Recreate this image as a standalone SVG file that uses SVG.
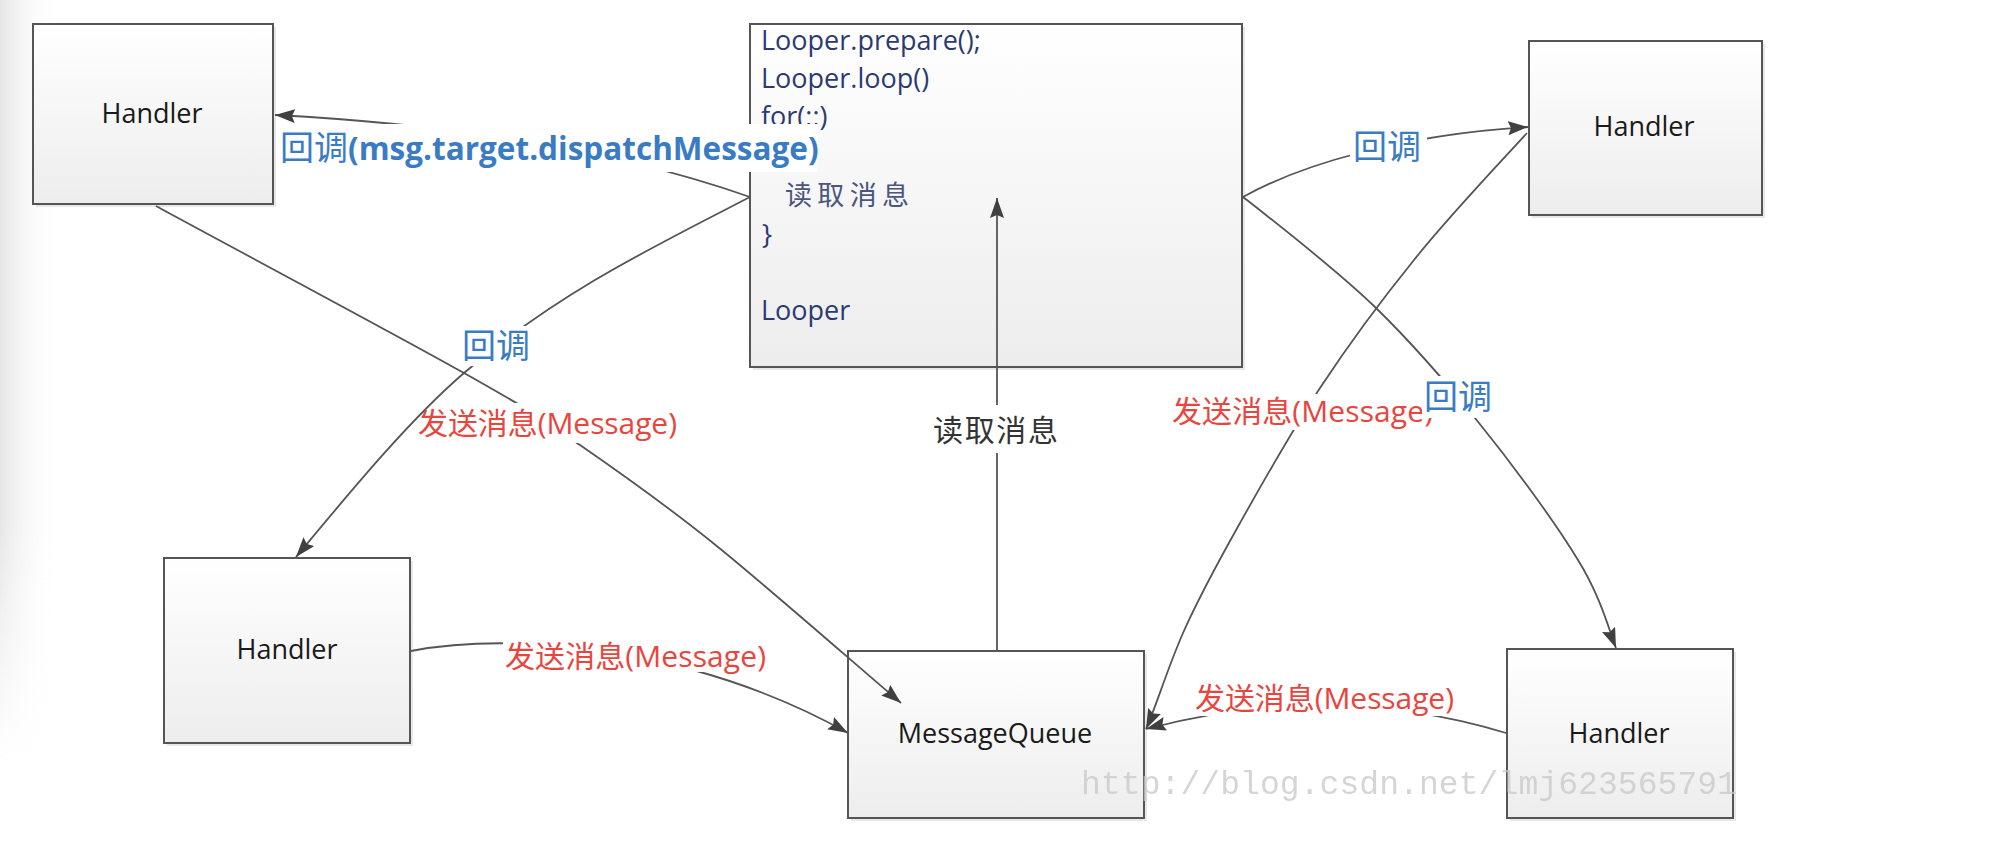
<svg xmlns="http://www.w3.org/2000/svg" width="1998" height="866" viewBox="0 0 1998 866">
<defs>
<style>
.box{fill:url(#boxgrad);stroke:#555;stroke-width:2}
.shadow{fill:#d8d8d8;opacity:0.6}
.node{font-family:"Open Sans","Noto Sans CJK SC",sans-serif;font-size:27px;fill:#1a1a1a;text-anchor:middle}
.code{font-family:"Open Sans","Noto Sans CJK SC",sans-serif;font-size:27px;fill:#2c3a70}
.conn{fill:none;stroke:#555;stroke-width:1.8}
.bg{fill:#fff}
.blue{font-family:"Open Sans","Noto Sans CJK SC",sans-serif;font-size:34px;fill:#3a7cc4}
.red{font-family:"Open Sans","Noto Sans CJK SC",sans-serif;font-size:30px;fill:#e8453e}
.grey{font-family:"Open Sans","Noto Sans CJK SC",sans-serif;font-size:30px;fill:#333}
.wm{font-family:"Liberation Mono",monospace;font-size:33px;fill:#c8c8c8;opacity:0.75}
</style>
<linearGradient id="boxgrad" x1="0" y1="0" x2="0" y2="1">
<stop offset="0" stop-color="#ffffff"/>
<stop offset="1" stop-color="#ededed"/>
</linearGradient>
<linearGradient id="leftgrad" x1="0" y1="0" x2="1" y2="0">
<stop offset="0" stop-color="#e6e6e6"/>
<stop offset="1" stop-color="#ffffff" stop-opacity="0"/>
</linearGradient>
<linearGradient id="fadev" x1="0" y1="0" x2="0" y2="1">
<stop offset="0.6" stop-color="#fff"/>
<stop offset="0.88" stop-color="#000"/>
</linearGradient>
<mask id="leftmask"><rect x="0" y="0" width="70" height="866" fill="url(#fadev)"/></mask>
<marker id="arrow" viewBox="0 0 20 14" refX="20" refY="7" markerWidth="20" markerHeight="14" markerUnits="userSpaceOnUse" orient="auto">
<path d="M0,0 L20,7 L0,14 L3,7 z" fill="#404040"/>
</marker>
</defs>
<rect x="0" y="0" width="1998" height="866" fill="#fff"/>
<rect x="0" y="0" width="60" height="866" fill="url(#leftgrad)" mask="url(#leftmask)"/>

<g id="handler-tl">
<rect class="shadow" x="36" y="27" width="240" height="180"/>
<rect class="box" x="33" y="24" width="240" height="180"/>
<text class="node" x="152" y="123">Handler</text>
</g>
<g id="looper">
<rect class="shadow" x="753" y="27" width="492" height="343"/>
<rect class="box" x="750" y="24" width="492" height="343"/>
<text class="code" x="761" y="50">Looper.prepare();</text>
<text class="code" x="761" y="88">Looper.loop()</text>
<text class="code" x="761" y="126">for(;;)</text>
<text class="code" x="785" y="205" fill="#4a5580" style="fill:#4a5580" textLength="124">读取消息</text>
<text class="code" x="762" y="244">}</text>
<text class="code" x="761" y="320">Looper</text>
</g>
<g id="handler-tr">
<rect class="shadow" x="1532" y="44" width="233" height="174"/>
<rect class="box" x="1529" y="41" width="233" height="174"/>
<text class="node" x="1644" y="136">Handler</text>
</g>
<g id="handler-bl">
<rect class="shadow" x="167" y="561" width="246" height="185"/>
<rect class="box" x="164" y="558" width="246" height="185"/>
<text class="node" x="287" y="659">Handler</text>
</g>
<g id="messagequeue">
<rect class="shadow" x="851" y="654" width="296" height="167"/>
<rect class="box" x="848" y="651" width="296" height="167"/>
<text class="node" x="995" y="743">MessageQueue</text>
</g>
<g id="handler-br">
<rect class="shadow" x="1510" y="652" width="226" height="169"/>
<rect class="box" x="1507" y="649" width="226" height="169"/>
<text class="node" x="1619" y="743">Handler</text>
</g>

<g id="connectors">
<path class="conn" d="M750,197 Q560,130 275,115" marker-end="url(#arrow)"/>
<path class="conn" d="M750,197 C655,246 559,292 464,373 C408,421 346,497 296,557" marker-end="url(#arrow)"/>
<path class="conn" d="M156,206 C207,234 393,333 464,373 C535,413 538,416 580,445 C622,474 665,504 718,547 C771,590 870,677 901,703" marker-end="url(#arrow)"/>
<path class="conn" d="M411,651 C520,630 700,650 848,733" marker-end="url(#arrow)"/>
<path class="conn" d="M997,651 L997,198" marker-end="url(#arrow)"/>
<path class="conn" d="M1243,197 C1300,165 1400,135 1528,127" marker-end="url(#arrow)"/>
<path class="conn" d="M1527,133 C1508,154 1448,217 1414,260 C1380,302 1349,344 1320,388 C1291,432 1263,482 1240,523 C1217,564 1198,599 1183,633 C1168,667 1154,712 1146,729" marker-end="url(#arrow)"/>
<path class="conn" d="M1243,197 C1266,215 1337,270 1376,308 C1415,346 1445,381 1479,423 C1513,465 1555,522 1578,560 C1601,597 1610,633 1616,648" marker-end="url(#arrow)"/>
<path class="conn" d="M1506,733 Q1330,680 1146,729" marker-end="url(#arrow)"/>
</g>

<g id="labels">
<rect class="bg" x="276" y="124" width="542" height="48"/>
<text class="blue" x="280" y="160"><tspan>回调</tspan><tspan font-weight="700" font-size="31.5">(msg.target.dispatchMessage)</tspan></text>
<rect class="bg" x="459" y="326" width="76" height="40"/>
<text class="blue" x="462" y="358">回调</text>
<rect class="bg" x="450" y="403" width="230" height="40"/>
<text class="red" x="418" y="434" textLength="259">发送消息(Message)</text>
<rect class="bg" x="503" y="638" width="266" height="34"/>
<text class="red" x="505" y="667" textLength="261">发送消息(Message)</text>
<rect class="bg" x="930" y="405" width="132" height="48"/>
<text class="grey" x="933" y="441" textLength="125">读取消息</text>
<rect class="bg" x="1350" y="126" width="77" height="41"/>
<text class="blue" x="1353" y="159">回调</text>
<rect class="bg" x="1170" y="394" width="265" height="36"/>
<text class="red" x="1172" y="422" textLength="261">发送消息(Message)</text>
<rect class="bg" x="1422" y="376" width="75" height="42"/>
<text class="blue" x="1424" y="409">回调</text>
<rect class="bg" x="1193" y="680" width="263" height="36"/>
<text class="red" x="1195" y="709" textLength="259">发送消息(Message)</text>
</g>
<text class="wm" x="1081" y="794" textLength="656">http://blog.csdn.net/lmj623565791</text>
</svg>
